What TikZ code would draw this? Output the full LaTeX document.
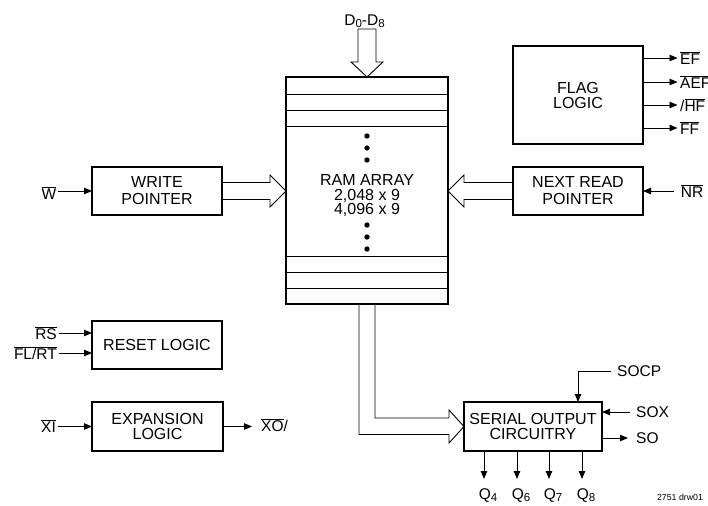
\documentclass[tikz,border=0pt]{standalone}
\usepackage{fontspec}
\setmainfont{Liberation Sans}
\usetikzlibrary{arrows.meta,calc}
\newcommand\ovl[1]{$\overline{\mbox{#1}}$}
\newcommand\dsub[1]{\raisebox{-1.5pt}{\fontsize{11.5}{11.5}\selectfont #1}}
\begin{document}
\begin{tikzpicture}[x=1pt,y=-1pt,
  box/.style={draw,line width=1.5pt,inner sep=0pt,outer sep=0pt,align=center,font=\fontsize{16}{17}\selectfont},
  lbl/.style={inner sep=1pt,font=\fontsize{15.5}{17}\selectfont},
  sig/.style={line width=0.9pt,-{Triangle[length=8pt,width=6.5pt]}},
  hollow/.style={line width=0.9pt,line join=miter},
  thin/.style={line width=0.9pt}
]
\useasboundingbox (0,0) rectangle (708,505);

% RAM array
\node[box,minimum width=162pt,minimum height=227pt] (ram) at (367,190.5) {};
\foreach \y in {94,110,126,256,272,288}
  \draw[thin] (ram.west |- 0,\y) -- (ram.east |- 0,\y);
\foreach \y in {136,148,160,225,237,249}
  \fill (ram.center |- 0,\y) circle (2.7pt);
\node[align=center,inner sep=0pt,font=\fontsize{16}{14.5}\selectfont] (ramtxt) at (367,196)
  {RAM ARRAY\\2,048 x 9\\4,096 x 9};

% blocks
\node[box,minimum width=130pt,minimum height=48pt] (wp) at (157,191) {WRITE\\POINTER};
\node[box,minimum width=130pt,minimum height=48pt] (nrp) at (578,191) {NEXT READ\\POINTER};
\node[box,minimum width=130pt,minimum height=98pt,font=\fontsize{16}{15}\selectfont] (flag) at (578,95) {FLAG\\LOGIC};
\node[box,minimum width=130pt,minimum height=48pt] (reset) at (157,345) {RESET LOGIC};
\node[box,minimum width=131pt,minimum height=49pt,font=\fontsize{16}{15}\selectfont] (exp) at (157.5,426.5) {EXPANSION\\LOGIC};
\node[box,minimum width=138pt,minimum height=49pt,font=\fontsize{16}{15}\selectfont] (sero) at (533,426.5) {SERIAL OUTPUT\\CIRCUITRY};

% data input
\node[lbl] (d) at (364.5,21) {D\dsub{0}-D\dsub{8}};
\draw[hollow] ($(ram.north)+(-9,-48)$) -- ($(ram.north)+(-9,-15)$) -- ($(ram.north)+(-16,-15)$)
  -- (ram.north) -- ($(ram.north)+(16,-15)$) -- ($(ram.north)+(9,-15)$) -- ($(ram.north)+(9,-48)$) -- cycle;

% write pointer -> RAM
\coordinate (wt) at (ram.west |- wp.east);
\draw[hollow] ($(wp.east)+(0,-8.5)$) -- ($(wt)+(-16,-8.5)$) -- ($(wt)+(-16,-16)$) -- (wt)
  -- ($(wt)+(-16,16)$) -- ($(wt)+(-16,8.5)$) -- ($(wp.east)+(0,8.5)$);

% next read pointer -> RAM
\coordinate (nt) at (ram.east |- nrp.west);
\draw[hollow] ($(nrp.west)+(0,-8.5)$) -- ($(nt)+(16,-8.5)$) -- ($(nt)+(16,-16)$) -- (nt)
  -- ($(nt)+(16,16)$) -- ($(nt)+(16,8.5)$) -- ($(nrp.west)+(0,8.5)$);

% RAM -> serial output
\coordinate (bo) at ($(ram.south)+(-8,0)$);
\coordinate (bi) at ($(ram.south)+(8,0)$);
\coordinate (tlo) at ($(sero.west)+(-15,8)$);
\coordinate (thi) at ($(sero.west)+(-15,-8.5)$);
\draw[hollow] (bo) -- (bo |- tlo) -- (tlo) -- ($(sero.west)+(-15,16.5)$) -- (sero.west)
  -- ($(sero.west)+(-15,-16.5)$) -- (thi) -- (bi |- thi) -- (bi);

% W
\node[lbl] (w) at (49,193) {\ovl{W}};
\draw[sig] (w.east |- wp.west) -- (wp.west);

% NR
\node[lbl] (nr) at (692,191) {\ovl{NR}};
\draw[sig] ($(nr.west |- nrp.east)+(-6,0)$) -- (nrp.east);

% flags
\node[lbl,anchor=west] (ef) at (679,58) {\ovl{EF}};
\node[lbl,anchor=west] (aef) at (679,82) {\ovl{AEF}};
\node[lbl,anchor=west] (hf) at (679,105) {/\ovl{HF}};
\node[lbl,anchor=west] (ff) at (679,128) {\ovl{FF}};
\foreach \n in {ef,aef,hf,ff}
  \draw[sig] (flag.east |- \n.west) -- ($(\n.west)+(-1.5,0)$);

% reset
\node[lbl,anchor=east] (rs) at (58,333) {\ovl{RS}};
\node[lbl,anchor=east] (flrt) at (58,353) {\ovl{FL/RT}};
\draw[sig] ($(rs.east)+(1,0)$) -- (reset.west |- rs.east);
\draw[sig] ($(flrt.east)+(1,0)$) -- (reset.west |- flrt.east);

% expansion
\node[lbl] (xi) at (48.5,426) {\ovl{XI}};
\draw[sig] ($(xi.east |- exp.west)+(1,0)$) -- (exp.west);
\node[lbl,anchor=west] (xo) at (260,425) {\ovl{XO}/};
\draw[sig] (exp.east) -- ($(exp.east -| xo.west)+(-8,0)$);

% serial output signals
\node[lbl,anchor=west] (socp) at (616,371) {SOCP};
\coordinate (socpin) at ($(sero.north)+(45,0)$);
\draw[sig] ($(socp.west)+(-5,0)$) -| (socpin);
\node[lbl,anchor=west] (sox) at (635,412) {SOX};
\draw[sig] ($(sox.west)+(-5,0)$) -- (sox.west -| sero.east);
\node[lbl,anchor=west] (so) at (635,438) {SO};
\draw[sig] (so.west -| sero.east) -- ($(so.west)+(-7,0)$);

% Q outputs
\node[lbl] (q4) at (488,496) {Q\dsub{4}};
\node[lbl] (q6) at (521,496) {Q\dsub{6}};
\node[lbl] (q7) at (553,496) {Q\dsub{7}};
\node[lbl] (q8) at (586,496) {Q\dsub{8}};
\coordinate (q4a) at (484,479);
\coordinate (q6a) at (517,479);
\coordinate (q7a) at (549,479);
\coordinate (q8a) at (582,479);
\foreach \c in {q4a,q6a,q7a,q8a}
  \draw[sig] (\c |- sero.south) -- (\c);

\node[inner sep=0pt,font=\fontsize{8.8}{10}\selectfont] (drw) at (680,497) {2751 drw01};
\end{tikzpicture}
\end{document}
